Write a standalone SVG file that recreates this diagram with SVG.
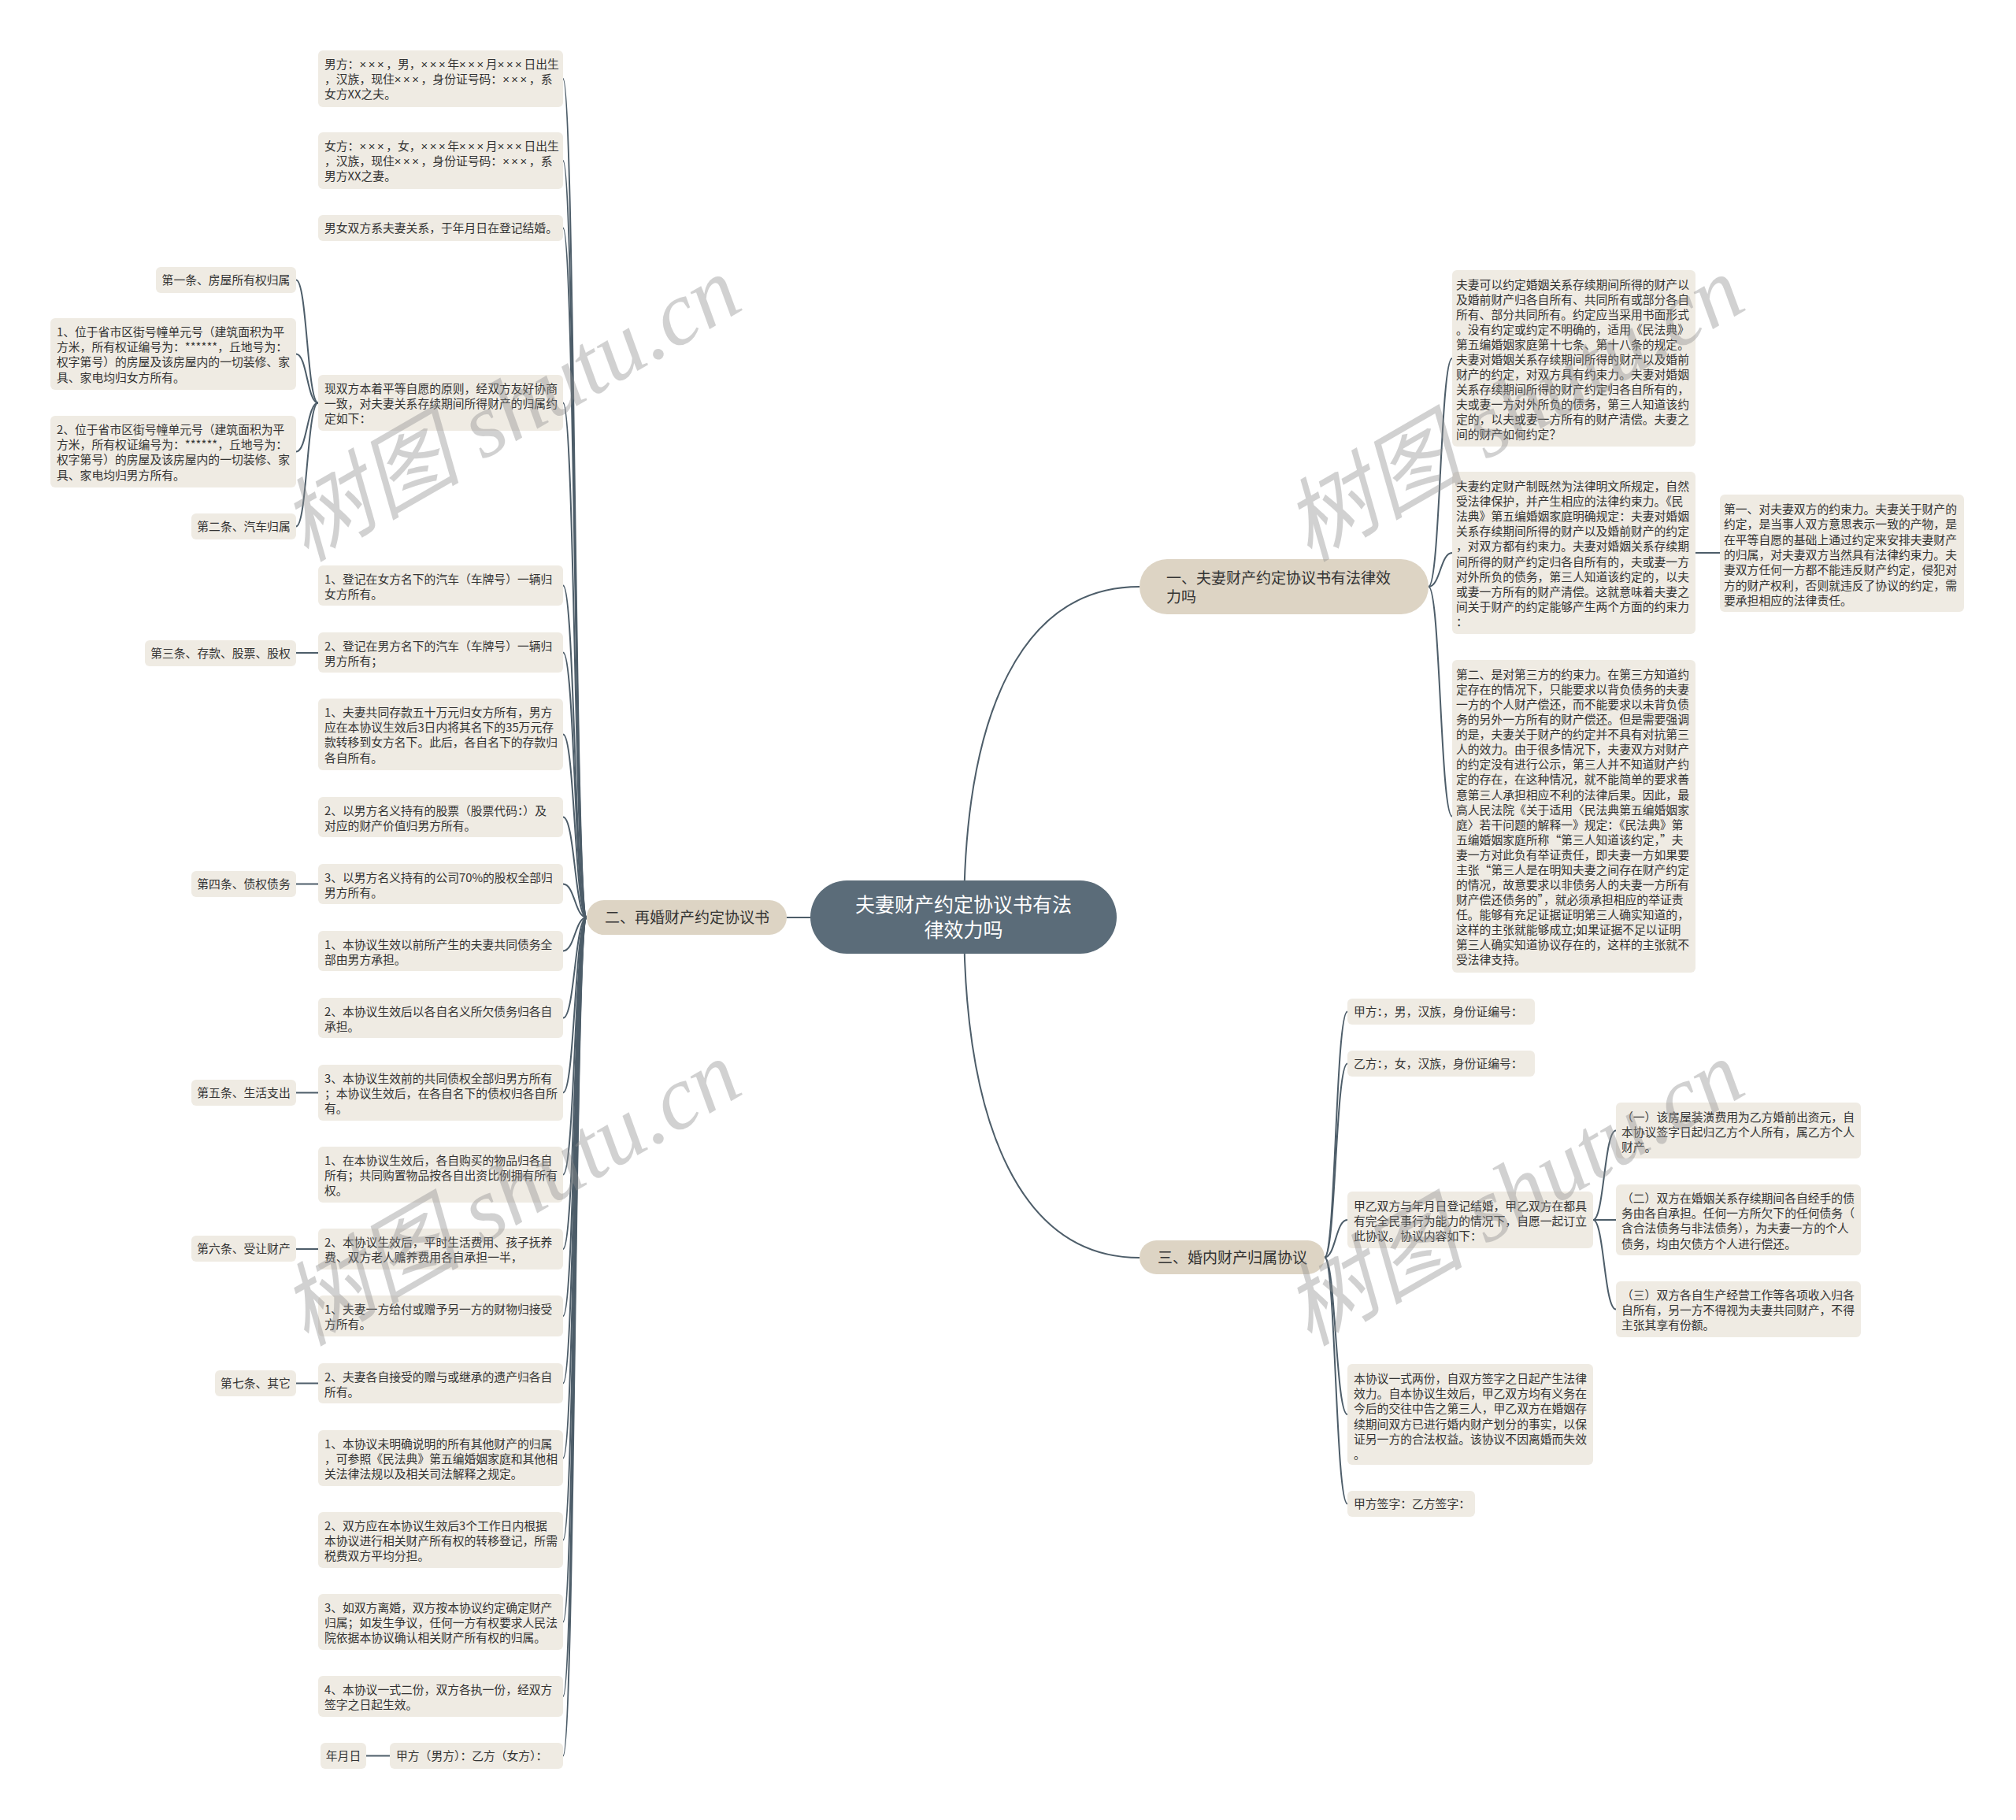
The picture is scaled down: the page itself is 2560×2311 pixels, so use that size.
<svg xmlns="http://www.w3.org/2000/svg" width="2560" height="2311" viewBox="0 0 2560 2311">
<style>
.bg{fill:#ffffff}
.leaf rect{fill:#efebe3}
.branch rect{fill:#ddd4c4}
.root rect{fill:#5b6c79}
.t{font-family:"Noto Sans CJK SC","Noto Sans",sans-serif;font-size:14.8px;fill:#333333}
.x{font-family:"Liberation Sans",Arial,sans-serif;letter-spacing:2.6px}
.c{text-anchor:middle}
.bt{font-family:"Noto Sans CJK SC","Noto Sans",sans-serif;font-size:19px;fill:#333333}
.rt{font-family:"Noto Sans CJK SC","Noto Sans",sans-serif;font-size:25px;fill:#ffffff;text-anchor:middle}
.conn path{fill:none;stroke:#4d5d69;stroke-width:2}
.wm{font-family:"Liberation Serif","Noto Sans CJK SC",serif;font-style:italic;font-size:115px;fill:#8f8f8f;opacity:0.4;text-anchor:middle}
</style>
<rect class="bg" x="0" y="0" width="2560" height="2311"/>

<g id="connectors" class="conn">
<path d="M1224,1165 C1224,900 1300,745 1447,745"/>
<path d="M1224,1165 C1224,1437 1300,1597 1447,1597"/>
<path d="M1029,1165 L999,1165"/>
<path d="M745,1165 C730,1165 730,100 715,100"/>
<path d="M745,1165 C730,1165 730,204 715,204"/>
<path d="M745,1165 C730,1165 730,289.5 715,289.5"/>
<path d="M745,1165 C730,1165 730,511.5 715,511.5"/>
<path d="M745,1165 C730,1165 730,743.5 715,743.5"/>
<path d="M745,1165 C730,1165 730,828.5 715,828.5"/>
<path d="M745,1165 C730,1165 730,932.5 715,932.5"/>
<path d="M745,1165 C730,1165 730,1037.5 715,1037.5"/>
<path d="M745,1165 C730,1165 730,1122.5 715,1122.5"/>
<path d="M745,1165 C730,1165 730,1207.5 715,1207.5"/>
<path d="M745,1165 C730,1165 730,1292.5 715,1292.5"/>
<path d="M745,1165 C730,1165 730,1387.5 715,1387.5"/>
<path d="M745,1165 C730,1165 730,1491.5 715,1491.5"/>
<path d="M745,1165 C730,1165 730,1586 715,1586"/>
<path d="M745,1165 C730,1165 730,1671 715,1671"/>
<path d="M745,1165 C730,1165 730,1756.5 715,1756.5"/>
<path d="M745,1165 C730,1165 730,1851.5 715,1851.5"/>
<path d="M745,1165 C730,1165 730,1955.5 715,1955.5"/>
<path d="M745,1165 C730,1165 730,2059.5 715,2059.5"/>
<path d="M745,1165 C730,1165 730,2154 715,2154"/>
<path d="M745,1165 C730,1165 730,2229.5 715,2229.5"/>
<path d="M404,511.5 C390,511.5 390,355.5 376,355.5"/>
<path d="M404,511.5 C390,511.5 390,449.5 376,449.5"/>
<path d="M404,511.5 C390,511.5 390,573.5 376,573.5"/>
<path d="M404,511.5 C390,511.5 390,668.5 376,668.5"/>
<path d="M404,829 L376,829"/>
<path d="M404,1122.5 L376,1122.5"/>
<path d="M404,1387.5 L376,1387.5"/>
<path d="M404,1586 L376,1586"/>
<path d="M404,1756.5 L376,1756.5"/>
<path d="M495,2229.5 L465,2229.5"/>
<path d="M1814,745 C1829,745 1829,455 1844,455"/>
<path d="M1814,745 C1829,745 1829,702 1844,702"/>
<path d="M1814,745 C1829,745 1829,1036.5 1844,1036.5"/>
<path d="M2153,702 L2184,702"/>
<path d="M1682,1596.5 C1696,1596.5 1696,1284.5 1711,1284.5"/>
<path d="M1682,1596.5 C1696,1596.5 1696,1350.5 1711,1350.5"/>
<path d="M1682,1596.5 C1696,1596.5 1696,1549 1711,1549"/>
<path d="M1682,1596.5 C1696,1596.5 1696,1796 1711,1796"/>
<path d="M1682,1596.5 C1696,1596.5 1696,1909.5 1711,1909.5"/>
<path d="M2023,1549 C2037,1549 2037,1435.5 2052,1435.5"/>
<path d="M2023,1549 C2037,1549 2037,1549 2052,1549"/>
<path d="M2023,1549 C2037,1549 2037,1662.5 2052,1662.5"/>
</g>

<g id="root" class="root">
<rect x="1029" y="1118" width="389" height="93" rx="46.5"/>
<text class="rt" x="1223.5" y="1158"><tspan x="1223.5">夫妻财产约定协议书有法</tspan><tspan x="1223.5" dy="32">律效力吗</tspan></text>
</g>

<g id="b2" class="branch">
<rect x="745" y="1143" width="254" height="44" rx="22"/>
<text class="bt" x="768" y="1171.5">二、再婚财产约定协议书</text>
</g>
<g id="b1" class="branch">
<rect x="1447" y="710" width="367" height="70" rx="35"/>
<text class="bt" x="1481" y="741"><tspan x="1481">一、夫妻财产约定协议书有法律效</tspan><tspan x="1481" dy="24">力吗</tspan></text>
</g>
<g id="b3" class="branch">
<rect x="1447" y="1575" width="235" height="43" rx="21.5"/>
<text class="bt" x="1470" y="1603.5">三、婚内财产归属协议</text>
</g>

<g id="l1" class="leaf"><rect x="404" y="64" width="311" height="72" rx="6"/>
<text class="t" x="412" y="87"><tspan x="412">男方：<tspan class="x">×××</tspan>，男，<tspan class="x">×××</tspan>年<tspan class="x">×××</tspan>月<tspan class="x">×××</tspan>日出生</tspan><tspan x="412" dy="19.2">，汉族，现住<tspan class="x">×××</tspan>，身份证号码：<tspan class="x">×××</tspan>，系</tspan><tspan x="412" dy="19.2">女方XX之夫。</tspan></text></g>
<g id="l2" class="leaf"><rect x="404" y="168" width="311" height="72" rx="6"/>
<text class="t" x="412" y="191"><tspan x="412">女方：<tspan class="x">×××</tspan>，女，<tspan class="x">×××</tspan>年<tspan class="x">×××</tspan>月<tspan class="x">×××</tspan>日出生</tspan><tspan x="412" dy="19.2">，汉族，现住<tspan class="x">×××</tspan>，身份证号码：<tspan class="x">×××</tspan>，系</tspan><tspan x="412" dy="19.2">男方XX之妻。</tspan></text></g>
<g id="l3" class="leaf"><rect x="404" y="273" width="311" height="33" rx="6"/>
<text class="t" x="412" y="295">男女双方系夫妻关系，于年月日在登记结婚。</text></g>
<g id="l4" class="leaf"><rect x="404" y="476" width="311" height="71" rx="6"/>
<text class="t" x="412" y="499"><tspan x="412">现双方本着平等自愿的原则，经双方友好协商</tspan><tspan x="412" dy="19.2">一致，对夫妻关系存续期间所得财产的归属约</tspan><tspan x="412" dy="19.2">定如下：</tspan></text></g>
<g id="l5" class="leaf"><rect x="404" y="718" width="311" height="51" rx="6"/>
<text class="t" x="412" y="741"><tspan x="412">1、登记在女方名下的汽车（车牌号）一辆归</tspan><tspan x="412" dy="19.2">女方所有。</tspan></text></g>
<g id="l6" class="leaf"><rect x="404" y="803" width="311" height="51" rx="6"/>
<text class="t" x="412" y="826"><tspan x="412">2、登记在男方名下的汽车（车牌号）一辆归</tspan><tspan x="412" dy="19.2">男方所有；</tspan></text></g>
<g id="l7" class="leaf"><rect x="404" y="887" width="311" height="91" rx="6"/>
<text class="t" x="412" y="910"><tspan x="412">1、夫妻共同存款五十万元归女方所有，男方</tspan><tspan x="412" dy="19.2">应在本协议生效后3日内将其名下的35万元存</tspan><tspan x="412" dy="19.2">款转移到女方名下。此后，各自名下的存款归</tspan><tspan x="412" dy="19.2">各自所有。</tspan></text></g>
<g id="l8" class="leaf"><rect x="404" y="1012" width="311" height="51" rx="6"/>
<text class="t" x="412" y="1035"><tspan x="412">2、以男方名义持有的股票（股票代码：）及</tspan><tspan x="412" dy="19.2">对应的财产价值归男方所有。</tspan></text></g>
<g id="l9" class="leaf"><rect x="404" y="1097" width="311" height="51" rx="6"/>
<text class="t" x="412" y="1120"><tspan x="412">3、以男方名义持有的公司70%的股权全部归</tspan><tspan x="412" dy="19.2">男方所有。</tspan></text></g>
<g id="l10" class="leaf"><rect x="404" y="1182" width="311" height="51" rx="6"/>
<text class="t" x="412" y="1205"><tspan x="412">1、本协议生效以前所产生的夫妻共同债务全</tspan><tspan x="412" dy="19.2">部由男方承担。</tspan></text></g>
<g id="l11" class="leaf"><rect x="404" y="1267" width="311" height="51" rx="6"/>
<text class="t" x="412" y="1290"><tspan x="412">2、本协议生效后以各自名义所欠债务归各自</tspan><tspan x="412" dy="19.2">承担。</tspan></text></g>
<g id="l12" class="leaf"><rect x="404" y="1352" width="311" height="71" rx="6"/>
<text class="t" x="412" y="1375"><tspan x="412">3、本协议生效前的共同债权全部归男方所有</tspan><tspan x="412" dy="19.2">；本协议生效后，在各自名下的债权归各自所</tspan><tspan x="412" dy="19.2">有。</tspan></text></g>
<g id="l13" class="leaf"><rect x="404" y="1456" width="311" height="71" rx="6"/>
<text class="t" x="412" y="1479"><tspan x="412">1、在本协议生效后，各自购买的物品归各自</tspan><tspan x="412" dy="19.2">所有；共同购置物品按各自出资比例拥有所有</tspan><tspan x="412" dy="19.2">权。</tspan></text></g>
<g id="l14" class="leaf"><rect x="404" y="1560" width="311" height="52" rx="6"/>
<text class="t" x="412" y="1583"><tspan x="412">2、本协议生效后，平时生活费用、孩子抚养</tspan><tspan x="412" dy="19.2">费、双方老人赡养费用各自承担一半，</tspan></text></g>
<g id="l15" class="leaf"><rect x="404" y="1645" width="311" height="52" rx="6"/>
<text class="t" x="412" y="1668"><tspan x="412">1、夫妻一方给付或赠予另一方的财物归接受</tspan><tspan x="412" dy="19.2">方所有。</tspan></text></g>
<g id="l16" class="leaf"><rect x="404" y="1731" width="311" height="51" rx="6"/>
<text class="t" x="412" y="1754"><tspan x="412">2、夫妻各自接受的赠与或继承的遗产归各自</tspan><tspan x="412" dy="19.2">所有。</tspan></text></g>
<g id="l17" class="leaf"><rect x="404" y="1816" width="311" height="71" rx="6"/>
<text class="t" x="412" y="1839"><tspan x="412">1、本协议未明确说明的所有其他财产的归属</tspan><tspan x="412" dy="19.2">，可参照《民法典》第五编婚姻家庭和其他相</tspan><tspan x="412" dy="19.2">关法律法规以及相关司法解释之规定。</tspan></text></g>
<g id="l18" class="leaf"><rect x="404" y="1920" width="311" height="71" rx="6"/>
<text class="t" x="412" y="1943"><tspan x="412">2、双方应在本协议生效后3个工作日内根据</tspan><tspan x="412" dy="19.2">本协议进行相关财产所有权的转移登记，所需</tspan><tspan x="412" dy="19.2">税费双方平均分担。</tspan></text></g>
<g id="l19" class="leaf"><rect x="404" y="2024" width="311" height="71" rx="6"/>
<text class="t" x="412" y="2047"><tspan x="412">3、如双方离婚，双方按本协议约定确定财产</tspan><tspan x="412" dy="19.2">归属；如发生争议，任何一方有权要求人民法</tspan><tspan x="412" dy="19.2">院依据本协议确认相关财产所有权的归属。</tspan></text></g>
<g id="l20" class="leaf"><rect x="404" y="2128" width="311" height="52" rx="6"/>
<text class="t" x="412" y="2151"><tspan x="412">4、本协议一式二份，双方各执一份，经双方</tspan><tspan x="412" dy="19.2">签字之日起生效。</tspan></text></g>
<g id="l21" class="leaf"><rect x="495" y="2213" width="220" height="33" rx="6"/>
<text class="t" x="503" y="2235">甲方（男方）：乙方（女方）：</text></g>

<g id="s1" class="leaf"><rect x="198" y="339" width="178" height="33" rx="6"/>
<text class="t c" x="287" y="361">第一条、房屋所有权归属</text></g>
<g id="s2" class="leaf"><rect x="64" y="404" width="312" height="91" rx="6"/>
<text class="t" x="72" y="427"><tspan x="72">1、位于省市区街号幢单元号（建筑面积为平</tspan><tspan x="72" dy="19.2">方米，所有权证编号为：******，丘地号为：</tspan><tspan x="72" dy="19.2">权字第号）的房屋及该房屋内的一切装修、家</tspan><tspan x="72" dy="19.2">具、家电均归女方所有。</tspan></text></g>
<g id="s3" class="leaf"><rect x="64" y="528" width="312" height="91" rx="6"/>
<text class="t" x="72" y="551"><tspan x="72">2、位于省市区街号幢单元号（建筑面积为平</tspan><tspan x="72" dy="19.2">方米，所有权证编号为：******，丘地号为：</tspan><tspan x="72" dy="19.2">权字第号）的房屋及该房屋内的一切装修、家</tspan><tspan x="72" dy="19.2">具、家电均归男方所有。</tspan></text></g>
<g id="s4" class="leaf"><rect x="243" y="652" width="133" height="33" rx="6"/>
<text class="t c" x="309.5" y="674">第二条、汽车归属</text></g>
<g id="s5" class="leaf"><rect x="184" y="813" width="192" height="33" rx="6"/>
<text class="t c" x="280" y="835">第三条、存款、股票、股权</text></g>
<g id="s6" class="leaf"><rect x="243" y="1106" width="133" height="33" rx="6"/>
<text class="t c" x="309.5" y="1128">第四条、债权债务</text></g>
<g id="s7" class="leaf"><rect x="243" y="1371" width="133" height="33" rx="6"/>
<text class="t c" x="309.5" y="1393">第五条、生活支出</text></g>
<g id="s8" class="leaf"><rect x="243" y="1569" width="133" height="33" rx="6"/>
<text class="t c" x="309.5" y="1591">第六条、受让财产</text></g>
<g id="s9" class="leaf"><rect x="273" y="1740" width="103" height="33" rx="6"/>
<text class="t c" x="324.5" y="1762">第七条、其它</text></g>
<g id="s10" class="leaf"><rect x="407" y="2213" width="58" height="33" rx="6"/>
<text class="t c" x="436" y="2235">年月日</text></g>

<g id="r1" class="leaf"><rect x="1844" y="343" width="309" height="224" rx="6"/>
<text class="t" x="1849" y="367"><tspan x="1849">夫妻可以约定婚姻关系存续期间所得的财产以</tspan><tspan x="1849" dy="19">及婚前财产归各自所有、共同所有或部分各自</tspan><tspan x="1849" dy="19">所有、部分共同所有。约定应当采用书面形式</tspan><tspan x="1849" dy="19">。没有约定或约定不明确的，适用《民法典》</tspan><tspan x="1849" dy="19">第五编婚姻家庭第十七条、第十八条的规定。</tspan><tspan x="1849" dy="19">夫妻对婚姻关系存续期间所得的财产以及婚前</tspan><tspan x="1849" dy="19">财产的约定，对双方具有约束力。夫妻对婚姻</tspan><tspan x="1849" dy="19">关系存续期间所得的财产约定归各自所有的，</tspan><tspan x="1849" dy="19">夫或妻一方对外所负的债务，第三人知道该约</tspan><tspan x="1849" dy="19">定的，以夫或妻一方所有的财产清偿。夫妻之</tspan><tspan x="1849" dy="19">间的财产如何约定？</tspan></text></g>
<g id="r2" class="leaf"><rect x="1844" y="599" width="309" height="206" rx="6"/>
<text class="t" x="1849" y="623"><tspan x="1849">夫妻约定财产制既然为法律明文所规定，自然</tspan><tspan x="1849" dy="19.1">受法律保护，并产生相应的法律约束力。《民</tspan><tspan x="1849" dy="19.1">法典》第五编婚姻家庭明确规定：夫妻对婚姻</tspan><tspan x="1849" dy="19.1">关系存续期间所得的财产以及婚前财产的约定</tspan><tspan x="1849" dy="19.1">，对双方都有约束力。夫妻对婚姻关系存续期</tspan><tspan x="1849" dy="19.1">间所得的财产约定归各自所有的，夫或妻一方</tspan><tspan x="1849" dy="19.1">对外所负的债务，第三人知道该约定的，以夫</tspan><tspan x="1849" dy="19.1">或妻一方所有的财产清偿。这就意味着夫妻之</tspan><tspan x="1849" dy="19.1">间关于财产的约定能够产生两个方面的约束力</tspan><tspan x="1849" dy="19.1">：</tspan></text></g>
<g id="r3" class="leaf"><rect x="2184" y="628" width="310" height="149" rx="6"/>
<text class="t" x="2189" y="652"><tspan x="2189">第一、对夫妻双方的约束力。夫妻关于财产的</tspan><tspan x="2189" dy="19.3">约定，是当事人双方意思表示一致的产物，是</tspan><tspan x="2189" dy="19.3">在平等自愿的基础上通过约定来安排夫妻财产</tspan><tspan x="2189" dy="19.3">的归属，对夫妻双方当然具有法律约束力。夫</tspan><tspan x="2189" dy="19.3">妻双方任何一方都不能违反财产约定，侵犯对</tspan><tspan x="2189" dy="19.3">方的财产权利，否则就违反了协议的约定，需</tspan><tspan x="2189" dy="19.3">要承担相应的法律责任。</tspan></text></g>
<g id="r4" class="leaf"><rect x="1844" y="838" width="309" height="397" rx="6"/>
<text class="t" x="1849" y="862"><tspan x="1849">第二、是对第三方的约束力。在第三方知道约</tspan><tspan x="1849" dy="19.07">定存在的情况下，只能要求以背负债务的夫妻</tspan><tspan x="1849" dy="19.07">一方的个人财产偿还，而不能要求以未背负债</tspan><tspan x="1849" dy="19.07">务的另外一方所有的财产偿还。但是需要强调</tspan><tspan x="1849" dy="19.07">的是，夫妻关于财产的约定并不具有对抗第三</tspan><tspan x="1849" dy="19.07">人的效力。由于很多情况下，夫妻双方对财产</tspan><tspan x="1849" dy="19.07">的约定没有进行公示，第三人并不知道财产约</tspan><tspan x="1849" dy="19.07">定的存在，在这种情况，就不能简单的要求善</tspan><tspan x="1849" dy="19.07">意第三人承担相应不利的法律后果。因此，最</tspan><tspan x="1849" dy="19.07">高人民法院《关于适用〈民法典第五编婚姻家</tspan><tspan x="1849" dy="19.07">庭〉若干问题的解释一》规定：《民法典》第</tspan><tspan x="1849" dy="19.07">五编婚姻家庭所称“第三人知道该约定，”夫</tspan><tspan x="1849" dy="19.07">妻一方对此负有举证责任，即夫妻一方如果要</tspan><tspan x="1849" dy="19.07">主张“第三人是在明知夫妻之间存在财产约定</tspan><tspan x="1849" dy="19.07">的情况，故意要求以非债务人的夫妻一方所有</tspan><tspan x="1849" dy="19.07">财产偿还债务的”，就必须承担相应的举证责</tspan><tspan x="1849" dy="19.07">任。能够有充足证据证明第三人确实知道的，</tspan><tspan x="1849" dy="19.07">这样的主张就能够成立;如果证据不足以证明</tspan><tspan x="1849" dy="19.07">第三人确实知道协议存在的，这样的主张就不</tspan><tspan x="1849" dy="19.07">受法律支持。</tspan></text></g>

<g id="t1" class="leaf"><rect x="1711" y="1268" width="238" height="33" rx="6"/>
<text class="t" x="1719" y="1290">甲方：，男，汉族，身份证编号：</text></g>
<g id="t2" class="leaf"><rect x="1711" y="1334" width="238" height="33" rx="6"/>
<text class="t" x="1719" y="1356">乙方：，女，汉族，身份证编号：</text></g>
<g id="t3" class="leaf"><rect x="1711" y="1513" width="312" height="72" rx="6"/>
<text class="t" x="1719" y="1537"><tspan x="1719">甲乙双方与年月日登记结婚，甲乙双方在都具</tspan><tspan x="1719" dy="19.2">有完全民事行为能力的情况下，自愿一起订立</tspan><tspan x="1719" dy="19.2">此协议。协议内容如下：</tspan></text></g>
<g id="t4" class="leaf"><rect x="1711" y="1732" width="312" height="128" rx="6"/>
<text class="t" x="1719" y="1756"><tspan x="1719">本协议一式两份，自双方签字之日起产生法律</tspan><tspan x="1719" dy="19.2">效力。自本协议生效后，甲乙双方均有义务在</tspan><tspan x="1719" dy="19.2">今后的交往中告之第三人，甲乙双方在婚姻存</tspan><tspan x="1719" dy="19.2">续期间双方已进行婚内财产划分的事实，以保</tspan><tspan x="1719" dy="19.2">证另一方的合法权益。该协议不因离婚而失效</tspan><tspan x="1719" dy="19.2">。</tspan></text></g>
<g id="t5" class="leaf"><rect x="1711" y="1893" width="162" height="33" rx="6"/>
<text class="t" x="1719" y="1915">甲方签字：乙方签字：</text></g>
<g id="u1" class="leaf"><rect x="2052" y="1400" width="311" height="71" rx="6"/>
<text class="t" x="2059" y="1424"><tspan x="2059">（一）该房屋装潢费用为乙方婚前出资元，自</tspan><tspan x="2059" dy="19.2">本协议签字日起归乙方个人所有，属乙方个人</tspan><tspan x="2059" dy="19.2">财产。</tspan></text></g>
<g id="u2" class="leaf"><rect x="2052" y="1504" width="311" height="90" rx="6"/>
<text class="t" x="2059" y="1527"><tspan x="2059">（二）双方在婚姻关系存续期间各自经手的债</tspan><tspan x="2059" dy="19.2">务由各自承担。任何一方所欠下的任何债务（</tspan><tspan x="2059" dy="19.2">含合法债务与非法债务），为夫妻一方的个人</tspan><tspan x="2059" dy="19.2">债务，均由欠债方个人进行偿还。</tspan></text></g>
<g id="u3" class="leaf"><rect x="2052" y="1627" width="311" height="71" rx="6"/>
<text class="t" x="2059" y="1650"><tspan x="2059">（三）双方各自生产经营工作等各项收入归各</tspan><tspan x="2059" dy="19.2">自所有，另一方不得视为夫妻共同财产，不得</tspan><tspan x="2059" dy="19.2">主张其享有份额。</tspan></text></g>

<g id="watermark">
<text class="wm" transform="translate(648,518) rotate(-30)" x="0" y="40">树图 shutu.cn</text>
<text class="wm" transform="translate(1922,518) rotate(-30)" x="0" y="40">树图 shutu.cn</text>
<text class="wm" transform="translate(648,1514) rotate(-30)" x="0" y="40">树图 shutu.cn</text>
<text class="wm" transform="translate(1922,1514) rotate(-30)" x="0" y="40">树图 shutu.cn</text>
</g>
</svg>
